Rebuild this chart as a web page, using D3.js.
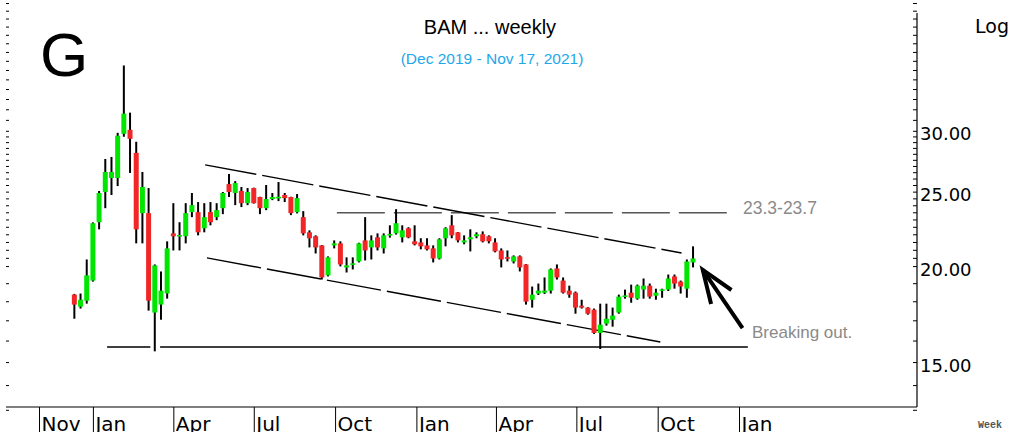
<!DOCTYPE html>
<html>
<head>
<meta charset="utf-8">
<script src="https://cdn.jsdelivr.net/npm/d3@7"></script>
<style>
  html, body { margin: 0; padding: 0; background: #fff; }
  svg { display: block; }
</style>
</head>
<body>
<svg id="chart" width="1014" height="432"></svg>
<script>
// BAM weekly candles, Dec 2019 - Nov 2021 (log price scale)
const firstWeek = new Date(2019, 11, 11);

const opens = [18.36,17.71,18.03,19.15,22.81,24.97,26.04,26.04,29.73,30.09,
    28.08,23.44,23.44,17.40,17.82,18.42,22.06,21.87,21.87,23.51,
    23.51,22.40,23.51,23.16,23.79,25.57,24.90,25.05,24.15,25.27,
    24.60,23.79,24.45,24.52,24.75,24.60,23.51,23.16,22.13,21.87,
    21.28,19.45,21.28,21.41,19.92,20.10,20.28,21.60,21.15,21.80,
    21.09,21.93,22.06,21.80,22.40,21.54,21.47,21.28,21.09,20.46,
    21.74,22.60,22.13,21.47,21.67,21.87,22.00,21.87,21.47,20.96,
    20.53,20.28,20.59,20.10,18.08,18.42,18.47,18.58,19.86,19.15,
    18.58,18.47,17.76,17.66,17.55,16.37,16.83,17.03,17.40,18.25,
    18.47,18.14,18.64,18.86,18.30,18.58,18.64,19.39,19.09,18.69,
    20.22];
const highs = [18.40,18.42,20.40,22.80,25.05,27.57,27.74,29.82,36.49,31.68,
    29.03,26.52,25.27,20.10,19.68,21.54,24.15,22.81,24.15,24.90,
    24.23,24.15,24.23,24.15,24.97,26.36,25.80,25.35,25.27,25.30,
    24.62,25.50,24.90,25.73,24.90,24.62,24.82,23.58,22.26,21.93,
    21.30,20.59,21.60,21.54,20.53,20.53,21.45,23.16,21.93,22.06,
    22.06,22.60,23.72,22.60,22.47,22.60,21.74,21.74,21.28,21.74,
    22.47,23.30,22.15,21.93,22.33,22.13,22.19,21.93,21.74,21.09,
    20.96,20.65,20.65,20.12,18.81,18.98,19.33,19.86,20.10,19.33,
    18.86,18.53,18.08,17.68,17.61,17.87,17.87,17.66,18.36,18.64,
    18.92,18.92,19.27,18.98,18.69,18.69,19.50,19.50,19.15,20.40,
    21.22];
const lows = [17.08,17.61,17.87,19.09,22.33,23.79,24.75,25.42,29.47,26.44,
    21.41,21.41,17.50,15.49,17.03,18.14,20.96,20.96,21.41,23.16,
    21.93,22.13,22.60,22.95,23.37,24.60,24.01,23.87,24.01,24.12,
    23.37,23.65,24.37,24.30,24.23,23.30,23.42,21.93,21.15,20.77,
    19.21,19.39,21.09,19.98,19.62,19.80,20.22,20.34,20.40,20.96,
    20.77,21.78,21.98,21.47,21.74,21.28,21.03,20.96,20.22,20.40,
    21.22,21.74,21.47,21.35,20.90,21.74,21.47,21.41,20.84,19.92,
    20.28,20.16,19.68,17.82,17.66,18.34,18.40,18.42,19.21,18.42,
    18.19,17.34,17.61,17.29,16.32,15.60,16.73,16.68,17.34,18.14,
    17.92,18.08,18.14,18.14,18.08,18.19,18.56,18.69,18.42,18.19,
    19.92];
const closes = [17.82,18.08,19.45,22.74,24.90,26.52,26.52,29.56,31.58,29.29,
    22.33,25.35,18.03,20.04,18.58,21.09,21.87,21.93,23.44,24.01,
    22.13,23.16,22.81,23.65,24.90,24.97,25.65,24.15,24.97,24.15,
    23.79,24.45,24.60,24.60,24.52,23.44,24.52,22.06,21.74,21.15,
    19.33,20.53,21.41,20.10,20.04,20.14,21.41,20.96,21.60,21.15,
    21.93,22.00,22.74,22.26,21.80,21.35,21.22,21.03,20.46,21.67,
    22.40,21.93,21.60,21.60,21.80,22.00,21.54,21.54,20.90,20.40,
    20.46,20.59,19.92,17.98,18.36,18.58,18.58,19.80,19.33,18.47,
    18.36,17.66,17.66,17.34,16.37,16.78,17.08,17.24,18.25,18.30,
    18.19,18.86,18.86,18.25,18.47,18.64,19.27,18.98,18.81,20.28,
    20.46];

const weeks = d3.range(opens.length).map(i => d3.timeDay.offset(firstWeek, 7 * i));

// Axis ticks
const monthTicks = [new Date(2019, 10, 1), new Date(2020, 0, 1), new Date(2020, 3, 1),
    new Date(2020, 6, 1), new Date(2020, 9, 1), new Date(2021, 0, 1), new Date(2021, 3, 1),
    new Date(2021, 6, 1), new Date(2021, 9, 1), new Date(2022, 0, 1)];
const monthLabels = ["Nov", "Jan", "Apr", "Jul", "Oct", "Jan", "Apr", "Jul", "Oct", "Jan"];
const priceLabels = [15, 20, 25, 30];
const minorTicks = [13, 14, 15, 16, 17, 18, 19, 20, 20.5, 21, 21.5, 22, 22.5, 23, 23.5, 24, 24.5,
    25, 25.5, 26, 26.5, 27, 27.5, 28, 28.5, 29, 29.5, 30, 31, 32, 33, 34, 35, 36, 37, 38, 39,
    40, 41, 42, 43, 44];

// Drawn annotations: [date, price] pairs
const upperChannel = [[new Date(2020, 4, 7), 27.09], [new Date(2021, 9, 28), 20.80]];
const lowerChannel = [[new Date(2020, 4, 9), 20.50], [new Date(2021, 9, 4), 15.93]];
const resistance = [[new Date(2020, 9, 3), 23.46], [new Date(2021, 11, 25), 23.46]];
const supportA = [[new Date(2020, 0, 17), 15.69], [new Date(2020, 2, 6), 15.69]];
const supportB = [[new Date(2020, 2, 17), 15.69], [new Date(2022, 0, 11), 15.69]];
const arrowLine = [[new Date(2022, 0, 5), 16.61], [new Date(2021, 10, 21), 19.77]];

const svg = d3.select("#chart");
svg.append("rect").attr("width", 1014).attr("height", 432).attr("fill", "#fff");

const x = d3.scaleTime()
    .domain([new Date(2019, 10, 1), new Date(2022, 0, 1)])
    .range([39, 739]);
const y = d3.scaleLog()
    .domain([13.11, 44.4])
    .range([407, 0]);

// Right price axis: minor ticks pointing in, labels outside
svg.append("g")
    .attr("transform", "translate(917,0)")
    .call(d3.axisLeft(y).tickValues(minorTicks).tickSize(4).tickFormat(""))
    .call(g => g.select(".domain").remove())
    .selectAll("line").attr("stroke", "#000");

svg.append("g")
    .attr("transform", "translate(917,0)")
    .call(d3.axisRight(y).tickValues(priceLabels).tickSize(0).tickPadding(3).tickFormat(d3.format(".2f")))
    .call(g => g.select(".domain").remove())
    .selectAll("text")
    .attr("dy", "0.5em")
    .attr("fill", "#000")
    .style("font-family", "'DejaVu Sans', sans-serif")
    .style("font-size", "18px");

svg.append("line")
    .attr("x1", 917).attr("x2", 917).attr("y1", 13).attr("y2", 407)
    .attr("stroke", "#000").attr("stroke-width", 1.2);

// Left side minor ticks (no line)
svg.append("g")
    .attr("transform", "translate(6,0)")
    .call(d3.axisRight(y).tickValues(minorTicks).tickSize(3).tickFormat(""))
    .call(g => g.select(".domain").remove())
    .selectAll("line").attr("stroke", "#000");

// Bottom time axis
svg.append("line")
    .attr("x1", 6).attr("x2", 917).attr("y1", 407).attr("y2", 407)
    .attr("stroke", "#000").attr("stroke-width", 1.2);

const xAxis = svg.append("g")
    .attr("transform", "translate(0,407)")
    .call(d3.axisBottom(x).tickValues(monthTicks).tickSize(26)
        .tickFormat((d, i) => monthLabels[i]));
xAxis.select(".domain").remove();
xAxis.selectAll("line").attr("stroke", "#000");
xAxis.selectAll("text")
    .attr("text-anchor", "start")
    .attr("x", 2)
    .attr("y", 24)
    .attr("dy", 0)
    .attr("fill", "#000")
    .style("font-family", "'DejaVu Sans', sans-serif")
    .style("font-size", "20px");

// Annotation lines
const line = d3.line().x(d => x(d[0])).y(d => y(d[1]));
const ann = svg.append("g").attr("fill", "none").attr("stroke", "#000");
ann.append("path").attr("d", line(upperChannel)).attr("stroke-width", 1.4).attr("stroke-dasharray", "52,6");
ann.append("path").attr("d", line(lowerChannel)).attr("stroke-width", 1.4).attr("stroke-dasharray", "55,6");
ann.append("path").attr("d", line(resistance)).attr("stroke-width", 1).attr("stroke-dasharray", "48,9");
ann.append("path").attr("d", line(supportA)).attr("stroke-width", 1.6);
ann.append("path").attr("d", line(supportB)).attr("stroke-width", 1.6);

// Candles
const candles = svg.append("g");
weeks.forEach((d, i) => {
    const cx = x(d);
    const up = closes[i] >= opens[i];
    candles.append("line")
        .attr("x1", cx).attr("x2", cx)
        .attr("y1", y(highs[i])).attr("y2", y(lows[i]))
        .attr("stroke", "#000").attr("stroke-width", 2);
    const top = y(Math.max(opens[i], closes[i]));
    const bot = y(Math.min(opens[i], closes[i]));
    const h = Math.max(1.6, bot - top);
    candles.append("rect")
        .attr("x", cx - 2.5).attr("width", 5)
        .attr("y", (top + bot) / 2 - h / 2).attr("height", h)
        .attr("fill", up ? "#00e600" : "#f22626");
});

// Arrow pointing at the breakout
const tip = [x(arrowLine[1][0]), y(arrowLine[1][1])];
const tail = [x(arrowLine[0][0]), y(arrowLine[0][1])];
const ang = Math.atan2(tail[1] - tip[1], tail[0] - tip[0]);
const headLen = 35, spread = 0.36;
const arm = a => [tip[0] + headLen * Math.cos(a), tip[1] + headLen * Math.sin(a)];
svg.append("path")
    .attr("d", d3.line()([tail, tip]))
    .attr("stroke", "#000").attr("stroke-width", 4).attr("fill", "none");
svg.append("path")
    .attr("d", d3.line()([arm(ang + spread), tip, arm(ang - spread)]))
    .attr("stroke", "#000").attr("stroke-width", 4).attr("fill", "none")
    .attr("stroke-linejoin", "miter");

// Texts
svg.append("text")
    .attr("x", 490).attr("y", 34)
    .attr("text-anchor", "middle")
    .style("font-family", "'Liberation Sans', Arial, sans-serif")
    .style("font-size", "20px")
    .attr("fill", "#000")
    .text("BAM ... weekly");

svg.append("text")
    .attr("x", 492).attr("y", 64)
    .attr("text-anchor", "middle")
    .style("font-family", "'Liberation Sans', Arial, sans-serif")
    .style("font-size", "15.5px")
    .attr("fill", "#1ea7ea")
    .text("(Dec 2019 - Nov 17, 2021)");

svg.append("text")
    .attr("x", 40).attr("y", 76)
    .style("font-family", "'Liberation Sans', Arial, sans-serif")
    .style("font-size", "62px")
    .attr("fill", "#000")
    .text("G");

svg.append("text")
    .attr("x", 743).attr("y", 214)
    .style("font-family", "'Liberation Sans', Arial, sans-serif")
    .style("font-size", "17.5px")
    .attr("fill", "#8a8a8a")
    .text("23.3-23.7");

svg.append("text")
    .attr("x", 752).attr("y", 338)
    .style("font-family", "'Liberation Sans', Arial, sans-serif")
    .style("font-size", "17px")
    .attr("fill", "#8a8a8a")
    .text("Breaking out.");

svg.append("text")
    .attr("x", 975).attr("y", 33)
    .style("font-family", "'DejaVu Sans', sans-serif")
    .style("font-size", "19px")
    .attr("fill", "#000")
    .text("Log");

svg.append("text")
    .attr("x", 978).attr("y", 428)
    .style("font-family", "'Liberation Mono', monospace")
    .style("font-size", "10px")
    .style("font-weight", "bold")
    .attr("fill", "#555")
    .text("Week");
</script>
</body>
</html>
